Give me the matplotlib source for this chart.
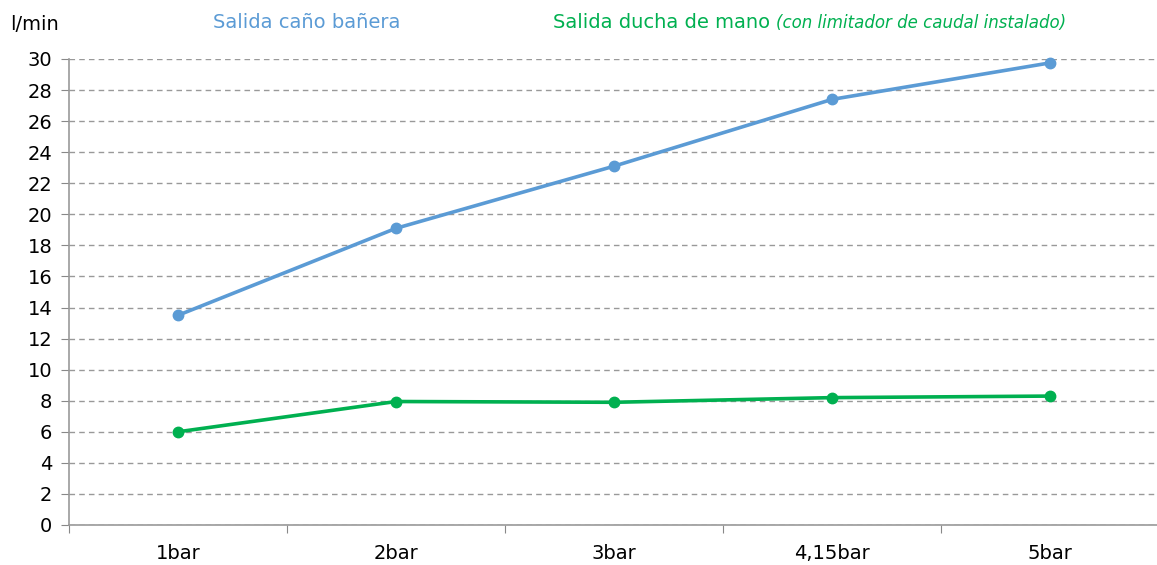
import matplotlib
matplotlib.use("Agg")
import matplotlib.pyplot as plt

categories = ["1bar", "2bar", "3bar", "4,15bar", "5bar"]
bath_spout = [13.5, 19.1, 23.1, 27.4, 29.75]
hand_shower = [6.0, 7.95, 7.9, 8.2, 8.3]
yticks = list(range(0, 31, 2))

BLUE = "#5B9BD5"
GREEN = "#00B050"

plt.rcParams["font.family"] = ["DejaVu Sans"]

fig = plt.figure(figsize=(11.57, 5.65), dpi=100)
ax = fig.add_axes([69 / 1157, 40 / 565, 1090 / 1157, 466 / 565])

x = list(range(len(categories)))
ax.plot(x, bath_spout, "o-", color=BLUE, lw=2.6, markersize=7.5, zorder=3, clip_on=False)
ax.plot(x, hand_shower, "o-", color=GREEN, lw=2.6, markersize=7.5, zorder=3, clip_on=False)

ax.set_xlim(-0.5, len(categories) - 0.5)
ax.set_ylim(0, 30)
ax.set_yticks(yticks)
ax.set_yticklabels([str(v) for v in yticks], fontsize=14)
ax.yaxis.grid(True, linestyle=(0, (4, 3)), color="#999999", lw=1)
ax.set_axisbelow(True)

# category labels centred, ticks on the boundaries
ax.set_xticks([i - 0.5 for i in x] + [len(categories) - 0.5])
ax.set_xticklabels([])
ax.set_xticks(x, minor=True)
ax.set_xticklabels(categories, minor=True, fontsize=14)
ax.tick_params(axis="x", which="minor", length=0, pad=14)
ax.tick_params(axis="x", which="major", length=6, direction="out", color="#888888")
ax.tick_params(axis="y", length=6, color="#888888", pad=6)

for s in ("top", "right"):
    ax.spines[s].set_visible(False)
for s in ("left", "bottom"):
    ax.spines[s].set_color("#999999")
    ax.spines[s].set_linewidth(1.2)

fig.text(10 / 1157, 1 - 25 / 565, "l/min", fontsize=14, va="center", ha="left")
fig.text(307 / 1157, 1 - 22 / 565, "Salida caño bañera", color=BLUE, fontsize=14,
         va="center", ha="center")
t = fig.text(553 / 1157, 1 - 22 / 565, "Salida ducha de mano ", color=GREEN, fontsize=14,
             va="center", ha="left")
fig.canvas.draw()
bb = t.get_window_extent()
fig.text(bb.x1 / 1157, 1 - 23 / 565, "(con limitador de caudal instalado)", color=GREEN,
         fontsize=12, style="italic", va="center", ha="left")

fig.savefig("out.png", dpi=100)
